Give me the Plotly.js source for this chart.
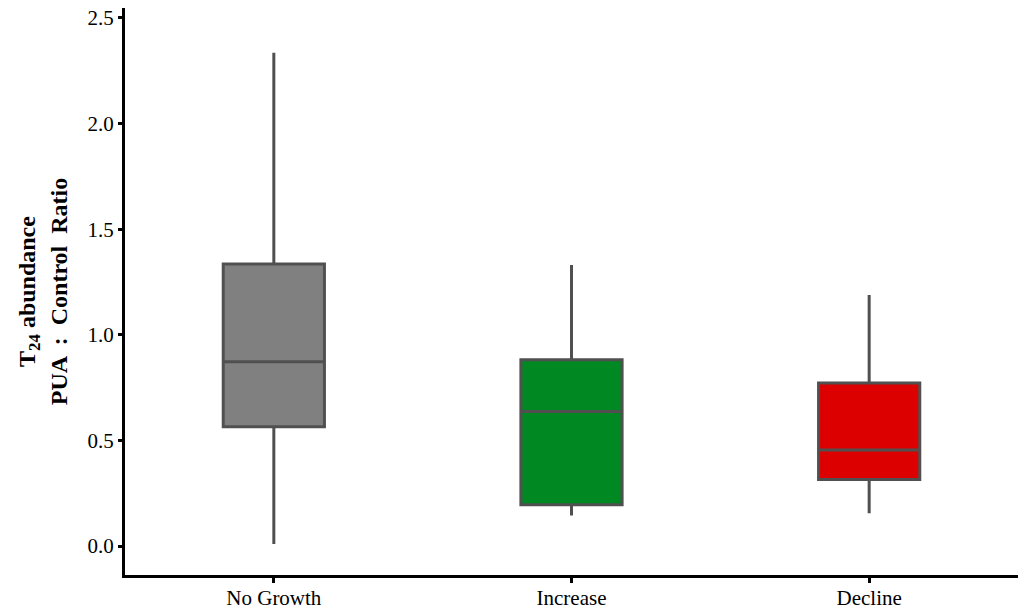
<!DOCTYPE html>
<html><head><meta charset="utf-8">
<script src="https://cdn.plot.ly/plotly-3.0.1.min.js"></script>
<style>body{margin:0;background:#fff}#c{width:1024px;height:612px}</style>
</head><body><div id="c"></div>
<script>
const categories = ["No Growth", "Increase", "Decline"];
const lowerWhisker = [0.01, 0.145, 0.155];
const q1Values = [0.565, 0.195, 0.315];
const medianValues = [0.872, 0.637, 0.455];
const q3Values = [1.335, 0.882, 0.772];
const upperWhisker = [2.335, 1.33, 1.188];
const fillColors = ["#808080", "#008822", "#dd0000"];
const yTicks = [0, 0.5, 1.0, 1.5, 2.0, 2.5];
const yTickText = ["0.0", "0.5", "1.0", "1.5", "2.0", "2.5"];

const traces = categories.map((c, i) => ({
  type: "box",
  x: [c],
  q1: [q1Values[i]],
  median: [medianValues[i]],
  q3: [q3Values[i]],
  lowerfence: [lowerWhisker[i]],
  upperfence: [upperWhisker[i]],
  fillcolor: fillColors[i],
  line: {color: "#505050", width: 3},
  whiskerwidth: 0,
  width: 0.34,
  boxpoints: false,
  hoverinfo: "skip",
  showlegend: false
}));

const font = {family: "Liberation Serif, Times New Roman, serif", color: "#000"};
Plotly.newPlot("c", traces, {
  width: 1024, height: 612,
  margin: {l: 125, r: 6, t: 8, b: 37},
  paper_bgcolor: "#fff", plot_bgcolor: "#fff",
  font: font,
  xaxis: {
    type: "category", categoryarray: categories, range: [-0.5, 2.5],
    showline: true, linecolor: "#000", linewidth: 3,
    ticks: "outside", ticklen: 5, tickwidth: 3, tickcolor: "#000",
    ticklabelstandoff: -3,
    tickfont: {family: font.family, size: 21, color: "#000"},
    showgrid: false, zeroline: false
  },
  yaxis: {
    range: [-0.137, 2.547],
    tickvals: yTicks, ticktext: yTickText,
    showline: true, linecolor: "#000", linewidth: 3,
    ticks: "outside", ticklen: 4, tickwidth: 3, tickcolor: "#000",
    tickfont: {family: font.family, size: 21, color: "#000"},
    showgrid: false, zeroline: false,
    title: {text: "<b>T<sub>24</sub> abundance<br>PUA  :  Control  Ratio</b>", font: {family: font.family, size: 24, color: "#000"}, standoff: 14}
  }
}, {displayModeBar: false, staticPlot: true});
</script></body></html>
